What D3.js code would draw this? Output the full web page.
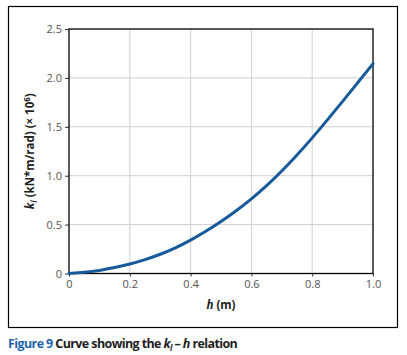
<!DOCTYPE html>
<html>
<head>
<meta charset="utf-8">
<script src="https://cdn.jsdelivr.net/npm/d3@7"></script>
<style>
  body { margin: 0; background: #fff; }
  svg { display: block; font-family: "Open Sans", "Noto Sans", sans-serif; }
</style>
</head>
<body>
<svg id="chart" width="407" height="355"></svg>
<script>
// h (m) and k_l (kN*m/rad, x 10^6)
const hValues = [0, 0.05, 0.1, 0.15, 0.2, 0.25, 0.3, 0.35, 0.4, 0.45, 0.5,
                 0.55, 0.6, 0.65, 0.7, 0.75, 0.8, 0.85, 0.9, 0.95, 1.0];
const kValues = [0, 0.01, 0.03, 0.06, 0.095, 0.14, 0.195, 0.26, 0.34, 0.43, 0.53,
                 0.64, 0.76, 0.895, 1.045, 1.21, 1.385, 1.57, 1.76, 1.952, 2.145];
const xTicks = [0, 0.2, 0.4, 0.6, 0.8, 1.0];
const xTickLabels = ["0", "0.2", "0.4", "0.6", "0.8", "1.0"];
const yTicks = [0, 0.5, 1.0, 1.5, 2.0, 2.5];
const yTickLabels = ["0", "0.5", "1.0", "1.5", "2.0", "2.5"];

const svg = d3.select("#chart");
const plot = {left: 69, right: 373, top: 29, bottom: 273.5};

const x = d3.scaleLinear().domain([0, 1]).range([plot.left, plot.right]);
const y = d3.scaleLinear().domain([0, 2.5]).range([plot.bottom, plot.top]);

// outer frame
svg.append("rect")
  .attr("x", 8.5).attr("y", 6.5)
  .attr("width", 389).attr("height", 321)
  .attr("fill", "none").attr("stroke", "#000").attr("stroke-width", 1.2);

// grid
svg.append("g").selectAll("line.vx")
  .data(xTicks.slice(1, -1))
  .join("line")
  .attr("x1", d => x(d)).attr("x2", d => x(d))
  .attr("y1", plot.top).attr("y2", plot.bottom)
  .attr("stroke", "#cfcfcf").attr("stroke-width", 1);
svg.append("g").selectAll("line.hy")
  .data(yTicks.slice(1, -1))
  .join("line")
  .attr("x1", plot.left).attr("x2", plot.right)
  .attr("y1", d => y(d)).attr("y2", d => y(d))
  .attr("stroke", "#cfcfcf").attr("stroke-width", 1);

// axes
const xAxis = svg.append("g")
  .attr("transform", `translate(0,${plot.bottom})`)
  .call(d3.axisBottom(x).tickValues(xTicks).tickFormat((d, i) => xTickLabels[i])
    .tickSizeInner(3).tickSizeOuter(0).tickPadding(4));
const yAxis = svg.append("g")
  .attr("transform", `translate(${plot.left},0)`)
  .call(d3.axisLeft(y).tickValues(yTicks).tickFormat((d, i) => yTickLabels[i])
    .tickSizeInner(4).tickSizeOuter(0).tickPadding(3));
[xAxis, yAxis].forEach(g => {
  g.select(".domain").remove();
  g.selectAll("text").attr("fill", "#555").style("font-size", "11px")
    .style("font-family", "'Open Sans', sans-serif");
  g.selectAll("line").attr("stroke", "#333");
});

// plot border
svg.append("rect")
  .attr("x", plot.left).attr("y", plot.top)
  .attr("width", plot.right - plot.left).attr("height", plot.bottom - plot.top)
  .attr("fill", "none").attr("stroke", "#000").attr("stroke-width", 1.3);

// curve
const pts = hValues.map((h, i) => [h, kValues[i]]);
svg.append("path")
  .datum(pts)
  .attr("fill", "none")
  .attr("stroke", "#175a9c")
  .attr("stroke-width", 3)
  .attr("stroke-linecap", "round")
  .attr("d", d3.line().x(d => x(d[0])).y(d => y(d[1])).curve(d3.curveBasis));

// axis titles
const xt = svg.append("text")
  .attr("x", (plot.left + plot.right) / 2).attr("y", 309)
  .attr("text-anchor", "middle")
  .style("font-size", "11.5px").style("font-weight", "bold").attr("fill", "#222");
xt.append("tspan").style("font-style", "italic").text("h");
xt.append("tspan").text(" (m)");

const yt = svg.append("text")
  .attr("transform", `translate(34,${(plot.top + plot.bottom) / 2}) rotate(-90)`)
  .attr("text-anchor", "middle")
  .style("font-size", "11.5px").style("font-weight", "bold").attr("fill", "#222");
yt.append("tspan").style("font-style", "italic").text("k");
yt.append("tspan").attr("dy", 3).style("font-size", "8px").style("font-style", "italic").text("l");
yt.append("tspan").attr("dy", -3).text(" (kN*m/rad) (× 10");
yt.append("tspan").attr("dy", -4).style("font-size", "8px").text("6");
yt.append("tspan").attr("dy", 4).text(")");

// caption
const cap = svg.append("text")
  .attr("x", 8).attr("y", 348)
  .style("font-size", "12.5px").style("font-weight", "bold")
  .style("font-family", "'Open Sans', sans-serif")
  .attr("letter-spacing", -0.6)
  .attr("fill", "#222");
cap.append("tspan").attr("fill", "#1f63ad").text("Figure 9 ");
cap.append("tspan").text("Curve showing the ");
cap.append("tspan").style("font-style", "italic").text("k");
cap.append("tspan").attr("dy", 3).style("font-size", "8px").style("font-style", "italic").text("l");
cap.append("tspan").attr("dy", -3).text(" – ");
cap.append("tspan").style("font-style", "italic").text("h");
cap.append("tspan").text(" relation");
</script>
</body>
</html>
